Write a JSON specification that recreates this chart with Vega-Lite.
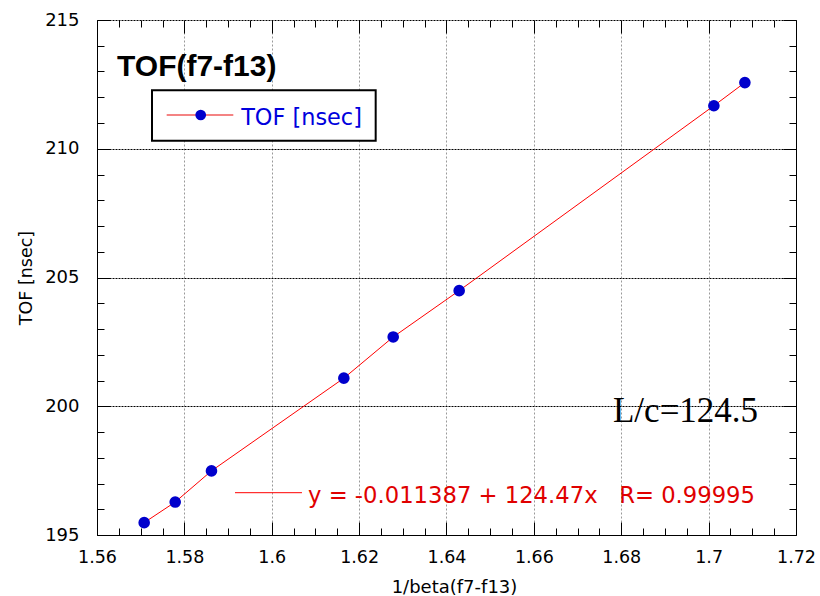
{
  "$schema": "https://vega.github.io/schema/vega-lite/v6.json",
  "width": 699,
  "height": 515,
  "autosize": {"type": "none"},
  "padding": {"left": 97, "top": 20, "right": 24, "bottom": 61},
  "background": "white",
  "config": {"view": {"stroke": null}, "font": "DejaVu Sans"},
  "data": {"values": [
    {"beta_inv": 1.5708, "tof": 195.48},
    {"beta_inv": 1.5779, "tof": 196.28},
    {"beta_inv": 1.5862, "tof": 197.49},
    {"beta_inv": 1.6165, "tof": 201.09},
    {"beta_inv": 1.6278, "tof": 202.69},
    {"beta_inv": 1.6429, "tof": 204.49},
    {"beta_inv": 1.7012, "tof": 211.67},
    {"beta_inv": 1.7083, "tof": 212.57}
  ]},
  "resolve": {"axis": {"x": "independent", "y": "independent"}},
  "layer": [
    {
      "mark": {"type": "line", "stroke": "#ff0000", "strokeWidth": 1},
      "encoding": {
        "x": {"field": "beta_inv", "type": "quantitative",
          "scale": {"domain": [1.56, 1.72], "nice": false, "zero": false},
          "axis": {"orient": "top", "labels": false, "grid": false, "domain": false, "title": null,
            "values": [1.56,1.565,1.57,1.575,1.58,1.585,1.59,1.595,1.6,1.605,1.61,1.615,1.62,1.625,1.63,1.635,1.64,1.645,1.65,1.655,1.66,1.665,1.67,1.675,1.68,1.685,1.69,1.695,1.7,1.705,1.71,1.715,1.72],
            "tickColor": "black",
            "tickSize": {"condition": {"test": "abs(datum.value*50 - round(datum.value*50)) < 0.001", "value": -13}, "value": -7}}},
        "y": {"field": "tof", "type": "quantitative",
          "scale": {"domain": [195, 215], "nice": false, "zero": false},
          "axis": {"orient": "right", "labels": false, "grid": false, "domain": true, "domainColor": "black", "title": null,
            "values": [195,196,197,198,199,200,201,202,203,204,205,206,207,208,209,210,211,212,213,214,215],
            "tickColor": "black",
            "tickSize": {"condition": {"test": "datum.value % 5 === 0", "value": -13}, "value": -7}}}
      }
    },
    {
      "mark": {"type": "circle", "fill": "#0000cc", "strokeWidth": 0, "size": 135, "opacity": 1},
      "encoding": {
        "x": {"field": "beta_inv", "type": "quantitative",
          "axis": {"orient": "bottom", "domainColor": "black", "tickColor": "black",
            "values": [1.56,1.565,1.57,1.575,1.58,1.585,1.59,1.595,1.6,1.605,1.61,1.615,1.62,1.625,1.63,1.635,1.64,1.645,1.65,1.655,1.66,1.665,1.67,1.675,1.68,1.685,1.69,1.695,1.7,1.705,1.71,1.715,1.72],
            "labelExpr": "abs(datum.value*50 - round(datum.value*50)) < 0.001 ? format(datum.value, '.3~g') : ''",
            "tickSize": {"condition": {"test": "abs(datum.value*50 - round(datum.value*50)) < 0.001", "value": -13}, "value": -7},
            "labelPadding": 26,
            "labelFont": "DejaVu Sans", "labelFontSize": 17.5, "labelColor": "black",
            "labelFlush": false, "labelOverlap": false,
            "grid": true, "gridColor": "#999999", "gridDash": [2, 2], "gridWidth": 1,
            "gridOpacity": {"condition": {"test": "abs(datum.value*50 - round(datum.value*50)) < 0.001", "value": 1}, "value": 0},
            "title": "1/beta(f7-f13)", "titleFont": "DejaVu Sans", "titleFontSize": 18, "titleFontWeight": "normal", "titleColor": "black",
            "titlePadding": 7, "titleX": 357}},
        "y": {"field": "tof", "type": "quantitative",
          "axis": {"orient": "left", "domainColor": "black", "tickColor": "black",
            "values": [195,196,197,198,199,200,201,202,203,204,205,206,207,208,209,210,211,212,213,214,215],
            "labelExpr": "datum.value % 5 === 0 ? datum.label : ''",
            "tickSize": {"condition": {"test": "datum.value % 5 === 0", "value": -13}, "value": -7},
            "labelPadding": 31,
            "labelFont": "DejaVu Sans", "labelFontSize": 18, "labelColor": "black",
            "labelFlush": false, "labelOverlap": false,
            "grid": true, "gridColor": "black", "gridDash": [2, 1], "gridWidth": 1,
            "gridOpacity": {"condition": {"test": "datum.value % 5 === 0", "value": 1}, "value": 0},
            "title": "TOF [nsec]", "titleFont": "DejaVu Sans", "titleFontSize": 17.5, "titleFontWeight": "normal", "titleColor": "black",
            "titlePadding": 9}}
      }
    },
    {
      "data": {"values": [{}]},
      "mark": {"type": "text", "text": "TOF(f7-f13)", "font": "Liberation Sans", "fontWeight": "bold", "fontSize": 30, "align": "left", "baseline": "alphabetic", "fill": "black"},
      "encoding": {"x": {"datum": 1.56458, "type": "quantitative", "axis": null}, "y": {"datum": 212.825, "type": "quantitative", "axis": null}}
    },
    {
      "data": {"values": [{}]},
      "mark": {"type": "rect", "fill": "white", "stroke": "black", "strokeWidth": 2},
      "encoding": {
        "x": {"datum": 1.57259, "type": "quantitative", "axis": null},
        "x2": {"datum": 1.62379},
        "y": {"datum": 212.270, "type": "quantitative", "axis": null},
        "y2": {"datum": 210.313}
      }
    },
    {
      "data": {"values": [{}]},
      "mark": {"type": "rule", "stroke": "#f05a5a", "strokeWidth": 1.3},
      "encoding": {
        "x": {"datum": 1.57595, "type": "quantitative", "axis": null},
        "x2": {"datum": 1.5912},
        "y": {"datum": 211.311, "type": "quantitative", "axis": null}
      }
    },
    {
      "data": {"values": [{}]},
      "mark": {"type": "circle", "fill": "#0000cc", "strokeWidth": 0, "size": 115, "opacity": 1},
      "encoding": {
        "x": {"datum": 1.58374, "type": "quantitative", "axis": null},
        "y": {"datum": 211.311, "type": "quantitative", "axis": null}
      }
    },
    {
      "data": {"values": [{}]},
      "mark": {"type": "text", "text": "TOF [nsec]", "font": "DejaVu Sans", "fontSize": 22.4, "align": "left", "baseline": "alphabetic", "fill": "#0000dd"},
      "encoding": {"x": {"datum": 1.5930, "type": "quantitative", "axis": null}, "y": {"datum": 210.922, "type": "quantitative", "axis": null}}
    },
    {
      "data": {"values": [{}]},
      "mark": {"type": "rule", "stroke": "#ff0000", "strokeWidth": 1},
      "encoding": {
        "x": {"datum": 1.59159, "type": "quantitative", "axis": null},
        "x2": {"datum": 1.60692},
        "y": {"datum": 196.643, "type": "quantitative", "axis": null}
      }
    },
    {
      "data": {"values": [{}]},
      "mark": {"type": "text", "text": "y = -0.011387 + 124.47x \u00a0 R= 0.99995", "font": "DejaVu Sans", "fontSize": 22.7, "align": "left", "baseline": "alphabetic", "fill": "#e00000"},
      "encoding": {"x": {"datum": 1.6083, "type": "quantitative", "axis": null}, "y": {"datum": 196.231, "type": "quantitative", "axis": null}}
    },
    {
      "data": {"values": [{}]},
      "mark": {"type": "text", "text": "L/c=124.5", "font": "Liberation Serif", "fontSize": 35, "align": "left", "baseline": "alphabetic", "fill": "black"},
      "encoding": {"x": {"datum": 1.67811, "type": "quantitative", "axis": null}, "y": {"datum": 199.388, "type": "quantitative", "axis": null}}
    }
  ]
}
